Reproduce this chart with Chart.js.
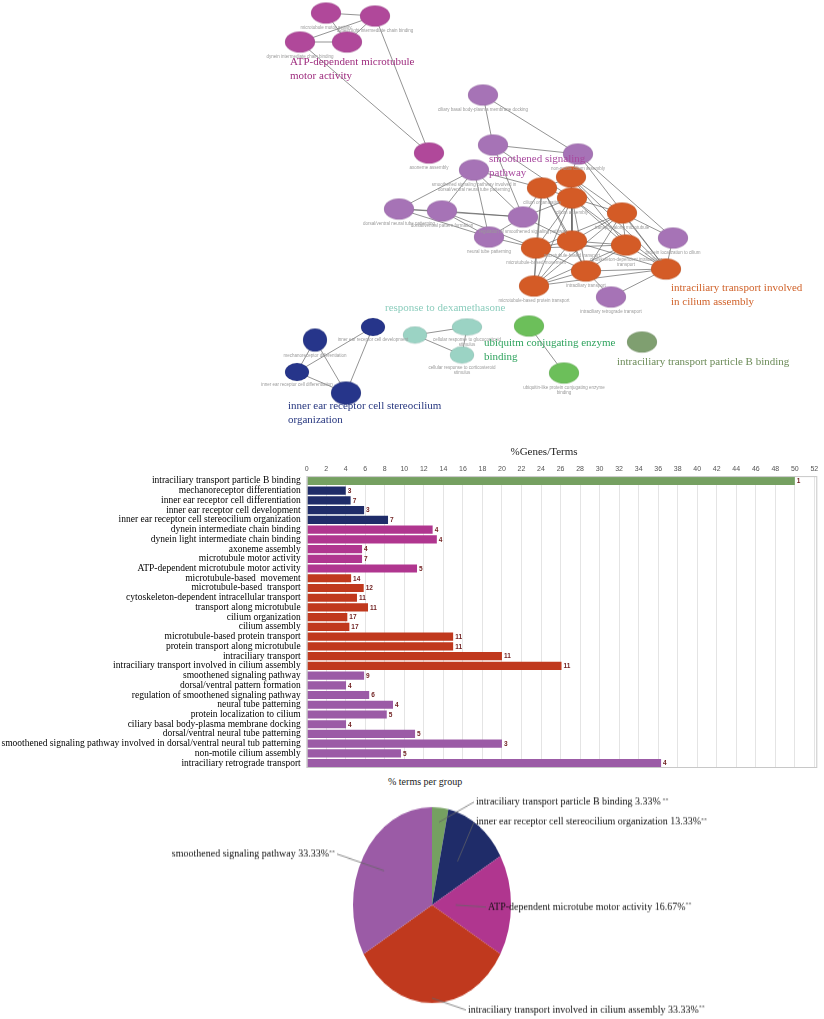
<!DOCTYPE html>
<html>
<head>
<meta charset="utf-8">
<script src="https://cdn.jsdelivr.net/npm/chart.js@4.4.1/dist/chart.umd.min.js"></script>
<style>
  body { margin: 0; background: #fff; width: 824px; height: 1019px; overflow: hidden; position: relative; font-family: "Liberation Serif", serif; }
  .box { position: absolute; left: 0; width: 824px; }
  #netBox { top: 0; height: 435px; }
  #barBox { top: 440px; height: 330px; }
  #pieBox { top: 805px; height: 200px; transform: scaleY(1.24); transform-origin: 50% 50%; }
  #pieTitle { position: absolute; top: 776px; left: 388px; font-size: 10px; color: #222; white-space: nowrap; }
</style>
</head>
<body>
<div class="box" id="netBox"><canvas id="net"></canvas></div>
<div class="box" id="barBox"><canvas id="bar"></canvas></div>
<div id="pieTitle">% terms per group</div>
<div class="box" id="pieBox"><canvas id="pie"></canvas></div>
<script>
// ---------- network (term graph) ----------
const netGroups = ['ATP-dependent microtubule motor activity', 'smoothened signaling pathway',
  'intraciliary transport involved in cilium assembly', 'response to dexamethasone',
  'ubiquitm conjugating enzyme binding', 'intraciliary transport particle B binding',
  'inner ear receptor cell stereocilium organization'];
const netColors = ['#b0489a', '#a673b6', '#d45b26', '#9bd3c4', '#6cbf5a', '#7f9f70', '#26358a'];
const netTextColors = ['#9e2c7e', '#a8489e', '#d0622a', '#8ccdbd', '#2fa35e', '#6c8b58', '#26367f'];

const nodeX = [326, 375, 300, 347, 429,
  483, 493, 578, 474, 399, 442, 523, 489, 673, 611,
  571, 542, 572, 622, 572, 536, 626, 586, 666, 534,
  415, 467, 462, 529, 564, 642,
  315, 373, 297, 346];
const nodeY = [13, 16, 42, 42, 153,
  95, 145, 154, 170, 209, 211, 217, 237, 238, 297,
  177, 188, 198, 213, 241, 248, 245, 271, 269, 286,
  335, 327, 355, 326, 373, 342,
  340, 327, 372, 393];
const nodeGroup = [0, 0, 0, 0, 0,
  1, 1, 1, 1, 1, 1, 1, 1, 1, 1,
  2, 2, 2, 2, 2, 2, 2, 2, 2, 2,
  3, 3, 3, 4, 4, 5,
  6, 6, 6, 6];
const nodeName = ['microtubule motor activity', 'dynein light intermediate chain binding', 'dynein intermediate chain binding', '', 'axoneme assembly',
  'ciliary basal body-plasma membrane docking', '', 'non-motile cilium assembly',
  'smoothened signaling pathway involved in dorsal/ventral neural tube patterning', 'dorsal/ventral neural tube patterning',
  'dorsal/ventral pattern formation', 'regulation of smoothened signaling pathway', 'neural tube patterning',
  'protein localization to cilium', 'intraciliary retrograde transport',
  '', 'cilium organization', 'cilium assembly', 'transport along microtubule', 'microtubule-based transport',
  'microtubule-based movement', 'cytoskeleton-dependent intracellular transport', 'intraciliary transport', '', 'microtubule-based protein transport',
  '', 'cellular response to glucocorticoid stimulus', 'cellular response to corticosteroid stimulus', '', 'ubiquitin-like protein conjugating enzyme binding', '',
  'mechanoreceptor differentiation', 'inner ear receptor cell development', 'inner ear receptor cell differentiation', ''];
const edges = [[0,1],[0,3],[1,2],[1,3],[2,3],[1,4],[2,4],
  [5,6],[5,7],[6,7],[6,11],[7,13],[8,9],[8,10],[8,12],[8,11],[9,10],[9,12],[10,12],[10,11],[11,12],[9,11],
  [6,17],[7,15],[7,23],[13,23],[13,18],[14,22],[14,23],[11,16],[11,19],[11,17],[12,20],[10,20],[8,16],
  [15,16],[15,17],[15,18],[15,19],[15,21],[15,23],[16,17],[16,19],[16,20],[16,24],[16,22],[17,18],[17,19],
  [17,20],[17,21],[17,22],[17,23],[17,24],[18,19],[18,21],[18,22],[18,23],[18,24],[19,20],[19,21],[19,22],
  [19,24],[19,23],[20,24],[20,22],[20,21],[21,22],[21,23],[21,24],[22,23],[22,24],[23,24],[18,20],
  [25,26],[25,27],[26,27],[28,29],
  [31,33],[31,34],[32,33],[32,34],[33,34]];
// group captions
const capLines = [['ATP-dependent microtubule', 'motor activity'], ['smoothened signaling', 'pathway'],
  ['intraciliary transport involved', 'in cilium assembly'], ['response to dexamethasone'],
  ['ubiquitm conjugating enzyme', 'binding'], ['intraciliary transport particle B binding'],
  ['inner ear receptor cell stereocilium', 'organization']];
const capX = [290, 489, 671, 385, 484, 617, 288];
const capY = [62, 159, 288, 308, 343, 362, 406];

// node sizes (w x h)
const nodeW = nodeX.map((_, i) => [25, 27, 31].includes(i) ? 24 : (i === 32 || i === 33 ? 24 : 30));
const nodeH = nodeX.map((_, i) => [25, 26, 27].includes(i) ? 17 : (i === 32 || i === 33 ? 18 : (i === 31 || i === 34 ? 23 : 21)));

function ellipseImg(w, h, color) {
  const c = document.createElement('canvas');
  c.width = w + 2; c.height = h + 2;
  const g = c.getContext('2d');
  g.fillStyle = color;
  g.beginPath();
  g.ellipse((w + 2) / 2, (h + 2) / 2, w / 2, h / 2, 0, 0, Math.PI * 2);
  g.fill();
  g.strokeStyle = 'rgba(0,0,0,0.12)';
  g.lineWidth = 0.6;
  g.stroke();
  return c;
}

const netDatasets = [];
edges.forEach(e => {
  netDatasets.push({
    data: [{ x: nodeX[e[0]], y: nodeY[e[0]] }, { x: nodeX[e[1]], y: nodeY[e[1]] }],
    showLine: true, borderColor: 'rgba(85,85,85,0.7)', borderWidth: 0.9,
    pointRadius: 0, order: 2
  });
});
netGroups.forEach((name, g) => {
  const idx = nodeX.map((_, i) => i).filter(i => nodeGroup[i] === g);
  const imgs = idx.map(i => ellipseImg(nodeW[i], nodeH[i], netColors[g]));
  netDatasets.push({
    label: name,
    data: idx.map(i => ({ x: nodeX[i], y: nodeY[i] })),
    pointStyle: imgs, pointRadius: 10, order: 0
  });
});

const netText = {
  id: 'netText',
  afterDatasetsDraw(chart) {
    const { ctx, scales: { x, y } } = chart;
    ctx.save();
    // tiny node names
    ctx.fillStyle = '#9a9a9a';
    ctx.font = '4.5px "Liberation Sans"';
    ctx.textAlign = 'center';
    ctx.textBaseline = 'top';
    nodeName.forEach((name, i) => {
      if (!name) return;
      const words = name.split(' ');
      const lines = [];
      let cur = '';
      words.forEach(w => {
        if ((cur + ' ' + w).length > 42 && cur) { lines.push(cur); cur = w; } else cur = cur ? cur + ' ' + w : w;
      });
      lines.push(cur);
      lines.forEach((l, k) => ctx.fillText(l, x.getPixelForValue(nodeX[i]), y.getPixelForValue(nodeY[i]) + nodeH[i] / 2 + 2 + k * 5));
    });
    // group captions
    ctx.textAlign = 'left';
    ctx.textBaseline = 'middle';
    ctx.font = '11px "Liberation Serif"';
    capLines.forEach((lines, g) => {
      ctx.fillStyle = netTextColors[g];
      lines.forEach((l, k) => ctx.fillText(l, x.getPixelForValue(capX[g]), y.getPixelForValue(capY[g] + k * 14)));
    });
    ctx.restore();
  }
};

new Chart(document.getElementById('net'), {
  type: 'scatter',
  data: { datasets: netDatasets },
  options: {
    animation: false, responsive: true, maintainAspectRatio: false,
    layout: { padding: 0, autoPadding: false },
    plugins: { legend: { display: false }, tooltip: { enabled: false } },
    scales: {
      x: { type: 'linear', min: 0, max: 824, display: false },
      y: { type: 'linear', min: 0, max: 435, reverse: true, display: false }
    }
  },
  plugins: [netText]
});

// ---------- bar chart (%Genes/Terms) ----------
const terms = ['intraciliary transport particle B binding', 'mechanoreceptor differentiation',
  'inner ear receptor cell differentiation', 'inner ear receptor cell development',
  'inner ear receptor cell stereocilium organization', 'dynein intermediate chain binding',
  'dynein light intermediate chain binding', 'axoneme assembly', 'microtubule motor activity',
  'ATP-dependent microtubule motor activity', 'microtubule-based  movement', 'microtubule-based  transport',
  'cytoskeleton-dependent intracellular transport', 'transport along microtubule', 'cilium organization',
  'cilium assembly', 'microtubule-based protein transport', 'protein transport along microtubule',
  'intraciliary transport', 'intraciliary transport involved in cilium assembly', 'smoothened signaling pathway',
  'dorsal/ventral pattern formation', 'regulation of smoothened signaling pathway', 'neural tube patterning',
  'protein localization to cilium', 'ciliary basal body-plasma membrane docking',
  'dorsal/ventral neural tube patterning',
  'smoothened signaling pathway involved in dorsal/ventral neural tub patterning',
  'non-motile cilium assembly', 'intraciliary retrograde transport'];
const pctGenes = [50, 4.0, 4.5, 5.88, 8.33, 12.9, 13.33, 5.67, 5.67, 11.3,
  4.55, 5.84, 5.15, 6.28, 4.16, 4.37, 15.0, 15.0, 20.0, 26.1,
  5.88, 4.03, 6.4, 8.84, 8.2, 4.03, 11.1, 20.0, 9.66, 36.3];
const termGroup = [0, 1, 1, 1, 1, 2, 2, 2, 2, 2, 3, 3, 3, 3, 3, 3, 3, 3, 3, 3, 4, 4, 4, 4, 4, 4, 4, 4, 4, 4];
const geneCounts = ['1', '3', '7', '3', '7', '4', '4', '4', '7', '5', '14', '12', '11', '11', '17', '17', '11', '11', '11', '11',
  '9', '4', '6', '4', '5', '4', '5', '3', '5', '4'];
const xTicks = [0, 2, 4, 6, 8, 10, 12, 14, 16, 18, 20, 22, 24, 26, 28, 30, 32, 34, 36, 38, 40, 42, 44, 46, 48, 50, 52];

// ---------- pie (% terms per group) ----------
const pieGroups = ['intraciliary transport particle B binding', 'inner ear receptor cell stereocilium organization',
  'ATP-dependent microtube motor activity', 'intraciliary transport involved in cilium assembly',
  'smoothened signaling pathway'];
const pieShare = [3.33, 13.33, 16.67, 33.33, 33.33];
const pieStars = [' **', '**', '**', '**', '**'];
const groupColors = ['#75a061', '#1f2c69', '#b0368f', '#c0391e', '#9b5ba6'];

const barExtras = {
  id: 'barExtras',
  afterDraw(chart) {
    const { ctx, chartArea: a } = chart;
    ctx.save();
    ctx.strokeStyle = '#c8c8c8';
    ctx.lineWidth = 1;
    ctx.strokeRect(a.left + 0.5, a.top + 0.5, a.width - 1, a.height - 1);
    ctx.fillStyle = '#222';
    ctx.font = '11px "Liberation Serif"';
    ctx.textAlign = 'center';
    ctx.textBaseline = 'middle';
    ctx.fillText('%Genes/Terms', 544, 12.5);
    ctx.font = 'bold 6.5px "Liberation Sans"';
    ctx.textAlign = 'left';
    ctx.fillStyle = '#6e1d1d';
    chart.getDatasetMeta(0).data.forEach((bar, i) => {
      ctx.fillText(geneCounts[i], bar.x + 2, bar.y + 0.5);
    });
    ctx.restore();
  }
};

new Chart(document.getElementById('bar'), {
  type: 'bar',
  data: {
    labels: terms,
    datasets: [{ data: pctGenes, backgroundColor: termGroup.map(g => groupColors[g]), barPercentage: 0.84, categoryPercentage: 1 }]
  },
  options: {
    indexAxis: 'y', animation: false, responsive: true, maintainAspectRatio: false,
    layout: { padding: { top: 23.2, right: 6.7, bottom: 2, left: 0 } },
    plugins: { legend: { display: false }, tooltip: { enabled: false } },
    scales: {
      x: {
        position: 'top', min: 0, max: 52.3,
        afterBuildTicks: s => { s.ticks = xTicks.map(v => ({ value: v })); },
        ticks: { font: { family: 'Liberation Sans', size: 7 }, color: '#555', padding: 3, maxRotation: 0, autoSkip: false },
        grid: { color: '#e4e4e4', drawTicks: false },
        border: { display: false },
        afterFit: s => { s.height = 12.9; }
      },
      y: {
        ticks: { font: { family: 'Liberation Serif', size: 9.5 }, color: '#000', padding: 6, autoSkip: false },
        grid: { display: false, drawTicks: false },
        border: { display: false },
        afterFit: s => { s.width = 306.7; s.paddingTop = 0; s.paddingBottom = 0; }
      }
    }
  },
  plugins: [barExtras]
});

// pie labels: text anchors on the page, leader start as fraction of the radius
const pieLabelX = [476, 476, 488, 468, 335];
const pieLabelY = [802, 822, 907, 1010, 854];
const pieLabelAlign = ['left', 'left', 'left', 'left', 'right'];
const leaderR = [0.85, 0.55, 0.3, 0.95, 0.7];
const SY = 1.24, PIE_CY = 905;

const pieText = {
  id: 'pieText',
  afterDraw(chart) {
    const { ctx } = chart;
    const cyCanvas = chart.height / 2;
    const toY = py => cyCanvas + (py - PIE_CY) / SY;
    ctx.save();
    chart.getDatasetMeta(0).data.forEach((arc, i) => {
      const mid = (arc.startAngle + arc.endAngle) / 2;
      const r = arc.outerRadius * leaderR[i];
      const sx = arc.x + Math.cos(mid) * r, sy = arc.y + Math.sin(mid) * r;
      const tx = pieLabelX[i] + (pieLabelAlign[i] === 'left' ? -2 : 2), ty = toY(pieLabelY[i]);
      ctx.strokeStyle = '#666';
      ctx.lineWidth = 0.7;
      ctx.beginPath();
      ctx.moveTo(sx, sy);
      ctx.lineTo(tx, ty);
      ctx.stroke();

      ctx.save();
      ctx.translate(pieLabelX[i], ty);
      ctx.scale(1, 1 / SY);
      ctx.fillStyle = '#111';
      ctx.textBaseline = 'middle';
      const main = pieGroups[i] + ' ' + pieShare[i].toFixed(2) + '%';
      ctx.font = '10px "Liberation Serif"';
      const wMain = ctx.measureText(main).width;
      ctx.font = '6px "Liberation Serif"';
      const wStar = ctx.measureText(pieStars[i]).width;
      const x0 = pieLabelAlign[i] === 'left' ? 0 : -(wMain + wStar);
      ctx.textAlign = 'left';
      ctx.font = '10px "Liberation Serif"';
      ctx.fillText(main, x0, 0);
      ctx.font = '6px "Liberation Serif"';
      ctx.fillText(pieStars[i], x0 + wMain, -2);
      ctx.restore();
    });
    ctx.restore();
  }
};

new Chart(document.getElementById('pie'), {
  type: 'pie',
  data: { labels: pieGroups, datasets: [{ data: pieShare, backgroundColor: groupColors, borderWidth: 0 }] },
  options: {
    animation: false, responsive: true, maintainAspectRatio: false,
    layout: { padding: { left: 353, right: 313, top: 21, bottom: 21 } },
    plugins: { legend: { display: false }, tooltip: { enabled: false } }
  },
  plugins: [pieText]
});
</script>
</body>
</html>
